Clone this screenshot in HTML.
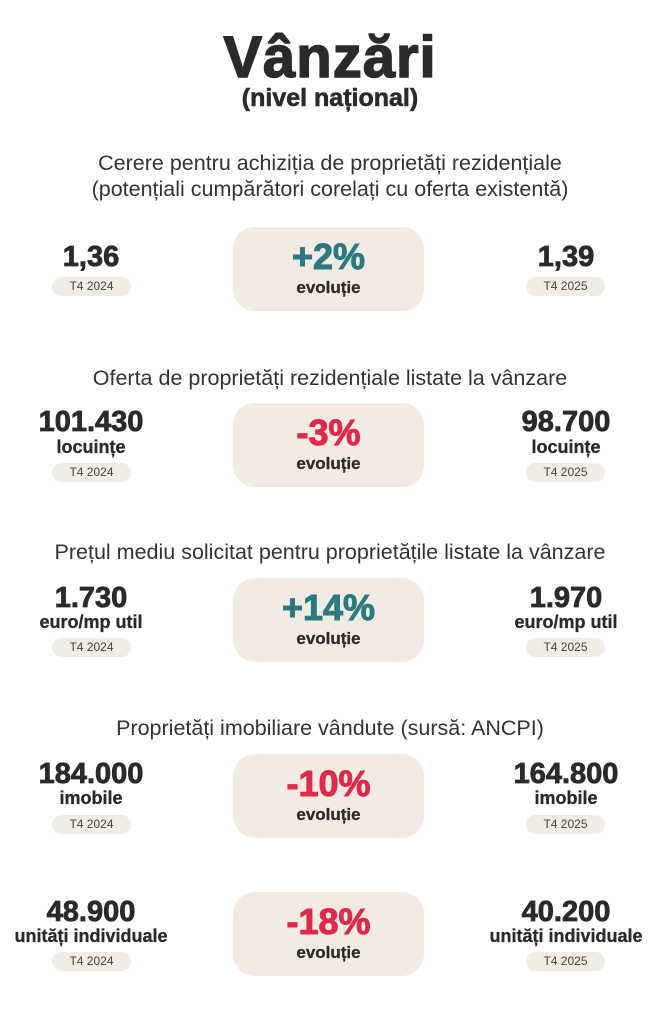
<!DOCTYPE html>
<html><head><meta charset="utf-8"><style>
body{margin:0;width:660px;height:1024px;background:#fff;position:relative;font-family:"Liberation Sans","DejaVu Sans",sans-serif;color:#2a2a2a;overflow:hidden}
.a{position:absolute;text-align:center;white-space:nowrap}
.t1{left:0;width:660px;font-size:58px;font-weight:bold;top:24px;letter-spacing:1px;-webkit-text-stroke:1.5px #2a2a2a}
.t2{left:0;width:660px;font-size:25px;font-weight:bold;top:84px;-webkit-text-stroke:0.6px #2a2a2a}
.h{left:0;width:660px;font-size:21.5px;line-height:26px;color:#333}
.n{width:200px;font-size:29px;font-weight:bold;line-height:30px;-webkit-text-stroke:0.8px #2a2a2a}
.u{width:200px;font-size:18px;font-weight:bold;line-height:20px;-webkit-text-stroke:0.3px #2a2a2a}
.p{width:79px;height:19px;border-radius:10px;background:#f1ece5;font-size:12px;line-height:19px;color:#444}
.b{left:233px;width:191px;height:84px;border-radius:22px;background:#f1ebe4}
.b .v{position:absolute;left:0;width:100%;top:9px;font-size:36px;font-weight:bold;text-align:center;-webkit-text-stroke:1px currentColor}
.b .e{position:absolute;left:0;width:100%;top:51px;font-size:17px;font-weight:bold;text-align:center;-webkit-text-stroke:0.3px #2a2a2a}
.g{color:#2a7a80}.r{color:#e0294b}
.L{left:-9px}.R{left:466px}.PL{left:52px}.PR{left:526px}
</style></head><body>
<div class="a t1">Vânzări</div>
<div class="a t2">(nivel național)</div>

<div class="a h" style="top:150px">Cerere pentru achiziția de proprietăți rezidențiale<br>(potențiali cumpărători corelați cu oferta existentă)</div>
<div class="a n L" style="top:242px">1,36</div>
<div class="a p PL" style="top:277px">T4 2024</div>
<div class="a b" style="top:227px"><div class="v g">+2%</div><div class="e">evoluție</div></div>
<div class="a n R" style="top:242px">1,39</div>
<div class="a p PR" style="top:277px">T4 2025</div>

<div class="a h" style="top:365px">Oferta de proprietăți rezidențiale listate la vânzare</div>
<div class="a n L" style="top:407px">101.430</div>
<div class="a u L" style="top:437px">locuințe</div>
<div class="a p PL" style="top:463px">T4 2024</div>
<div class="a b" style="top:403px"><div class="v r">-3%</div><div class="e">evoluție</div></div>
<div class="a n R" style="top:407px">98.700</div>
<div class="a u R" style="top:437px">locuințe</div>
<div class="a p PR" style="top:463px">T4 2025</div>

<div class="a h" style="top:539px">Prețul mediu solicitat pentru proprietățile listate la vânzare</div>
<div class="a n L" style="top:583px">1.730</div>
<div class="a u L" style="top:612px">euro/mp util</div>
<div class="a p PL" style="top:638px">T4 2024</div>
<div class="a b" style="top:578px"><div class="v g">+14%</div><div class="e">evoluție</div></div>
<div class="a n R" style="top:583px">1.970</div>
<div class="a u R" style="top:612px">euro/mp util</div>
<div class="a p PR" style="top:638px">T4 2025</div>

<div class="a h" style="top:715px">Proprietăți imobiliare vândute (sursă: ANCPI)</div>
<div class="a n L" style="top:759px">184.000</div>
<div class="a u L" style="top:788px">imobile</div>
<div class="a p PL" style="top:815px">T4 2024</div>
<div class="a b" style="top:754px"><div class="v r">-10%</div><div class="e">evoluție</div></div>
<div class="a n R" style="top:759px">164.800</div>
<div class="a u R" style="top:788px">imobile</div>
<div class="a p PR" style="top:815px">T4 2025</div>

<div class="a n L" style="top:897px">48.900</div>
<div class="a u L" style="top:926px">unități individuale</div>
<div class="a p PL" style="top:952px">T4 2024</div>
<div class="a b" style="top:892px"><div class="v r">-18%</div><div class="e">evoluție</div></div>
<div class="a n R" style="top:897px">40.200</div>
<div class="a u R" style="top:926px">unități individuale</div>
<div class="a p PR" style="top:952px">T4 2025</div>
</body></html>
